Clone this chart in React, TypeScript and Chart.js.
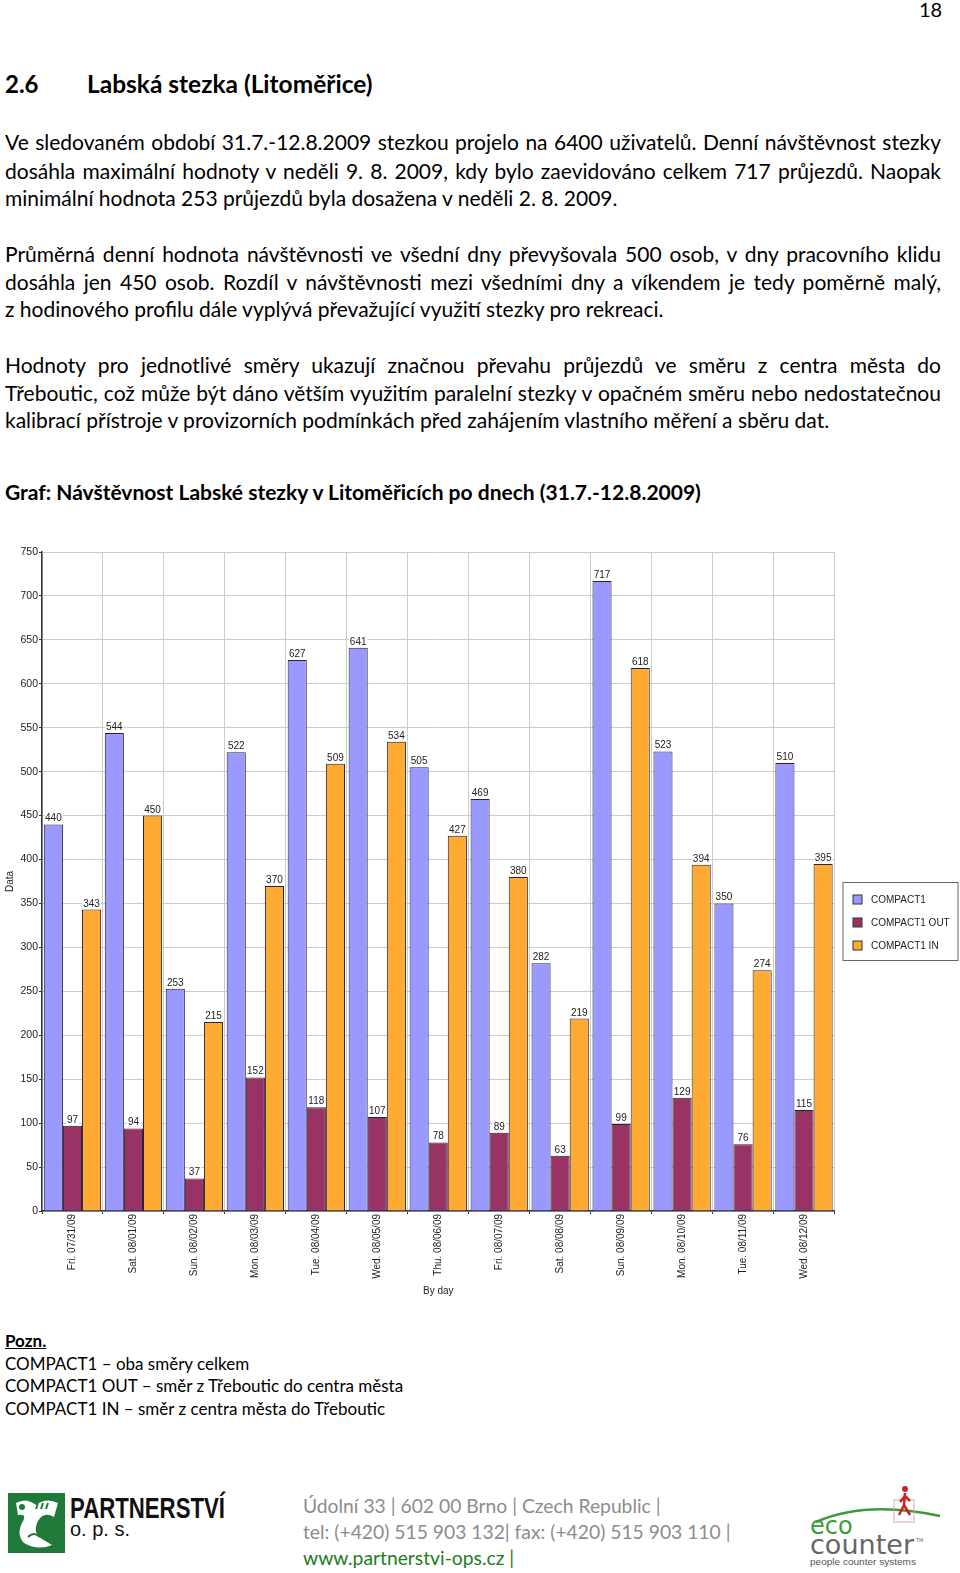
import React, { useEffect, useRef } from "react";
import { Chart, registerables } from "chart.js";

Chart.register(...registerables);

const categories = [
  "Fri. 07/31/09",
  "Sat. 08/01/09",
  "Sun. 08/02/09",
  "Mon. 08/03/09",
  "Tue. 08/04/09",
  "Wed. 08/05/09",
  "Thu. 08/06/09",
  "Fri. 08/07/09",
  "Sat. 08/08/09",
  "Sun. 08/09/09",
  "Mon. 08/10/09",
  "Tue. 08/11/09",
  "Wed. 08/12/09",
];
const compact1 = [440, 544, 253, 522, 627, 641, 505, 469, 282, 717, 523, 350, 510];
const compact1Out = [97, 94, 37, 152, 118, 107, 78, 89, 63, 99, 129, 76, 115];
const compact1In = [343, 450, 215, 370, 509, 534, 427, 380, 219, 618, 394, 274, 395];
const seriesNames = ["COMPACT1", "COMPACT1 OUT", "COMPACT1 IN"];
const seriesColors = ["#9999FF", "#993366", "#FFAA33"];
const yTickValues = [0, 50, 100, 150, 200, 250, 300, 350, 400, 450, 500, 550, 600, 650, 700, 750];
const xTitle = "By day";
const yTitle = "Data";

const valueLabels = {
  id: "valueLabels",
  afterDatasetsDraw(chart: any) {
    const ctx = chart.ctx;
    ctx.save();
    ctx.font = "10px Arial, 'Liberation Sans', sans-serif";
    ctx.textAlign = "center";
    ctx.textBaseline = "alphabetic";
    chart.data.datasets.forEach((ds: any, di: number) => {
      const meta = chart.getDatasetMeta(di);
      meta.data.forEach((el: any, i: number) => {
        const txt = String(ds.data[i]);
        const w = ctx.measureText(txt).width;
        const base = el.y - 3;
        ctx.fillStyle = "#ffffff";
        ctx.fillRect(el.x - w / 2 - 1, base - 9, w + 2, 11);
        ctx.fillStyle = "#222222";
        ctx.fillText(txt, el.x, base);
      });
    });
    ctx.restore();
  },
};

const boxLegend = {
  id: "boxLegend",
  afterDraw(chart: any) {
    const ctx = chart.ctx;
    const area = chart.chartArea;
    const x0 = area.right + 8.5;
    const y0 = area.top + 330.5;
    const w = 115;
    const h = 78;
    ctx.save();
    ctx.fillStyle = "#ffffff";
    ctx.fillRect(x0, y0, w, h);
    ctx.strokeStyle = "#666666";
    ctx.lineWidth = 1;
    ctx.strokeRect(x0, y0, w, h);
    ctx.font = "10px Arial, 'Liberation Sans', sans-serif";
    ctx.textBaseline = "middle";
    ctx.textAlign = "left";
    seriesNames.forEach((name, i) => {
      const cy = y0 + 17 + i * 23;
      ctx.fillStyle = seriesColors[i];
      ctx.fillRect(x0 + 10, cy - 4.5, 9, 9);
      ctx.strokeStyle = "#333333";
      ctx.strokeRect(x0 + 10, cy - 4.5, 9, 9);
      ctx.fillStyle = "#222222";
      ctx.fillText(name, x0 + 28, cy + 0.5);
    });
    ctx.restore();
  },
};

function BarChart() {
  const ref = useRef<HTMLCanvasElement | null>(null);
  useEffect(() => {
    if (!ref.current) return;
    const series = [compact1, compact1Out, compact1In];
    const chart = new Chart(ref.current, {
      type: "bar",
      data: {
        labels: categories,
        datasets: series.map((d, i) => ({
          label: seriesNames[i],
          data: d,
          backgroundColor: seriesColors[i],
          borderColor: "#2a2233",
          borderWidth: 1,
          borderSkipped: "bottom",
          categoryPercentage: 0.94,
          barPercentage: 1,
        })),
      },
      options: {
        animation: false,
        responsive: true,
        maintainAspectRatio: false,
        layout: { padding: { left: 0, right: 125.5, top: 12, bottom: 0 } },
        plugins: {
          legend: { display: false },
          tooltip: { enabled: false },
        },
        scales: {
          x: {
            afterFit: (s: any) => {
              s.height = 99;
            },
            grid: {
              color: "#cccccc",
              tickColor: "#333333",
              tickLength: 3,
              offset: true,
            },
            border: { color: "#333344", width: 1.5 },
            ticks: {
              minRotation: 90,
              maxRotation: 90,
              padding: 0,
              autoSkip: false,
              color: "#222222",
              font: { family: "Arial, 'Liberation Sans', sans-serif", size: 10 },
            },
            title: {
              display: true,
              text: xTitle,
              color: "#222222",
              font: { family: "Arial, 'Liberation Sans', sans-serif", size: 10 },
              padding: { top: 0, bottom: 13 },
            },
          },
          y: {
            min: 0,
            max: 750,
            afterFit: (s: any) => {
              s.width = 42;
            },
            afterBuildTicks: (s: any) => {
              s.ticks = yTickValues.map((v) => ({ value: v }));
            },
            grid: {
              color: "#cccccc",
              tickColor: "#333333",
              tickLength: 3,
            },
            border: { color: "#333344", width: 1.5 },
            ticks: {
              padding: 1,
              color: "#222222",
              font: { family: "Arial, 'Liberation Sans', sans-serif", size: 10.5 },
            },
            title: {
              display: true,
              text: yTitle,
              color: "#222222",
              font: { family: "Arial, 'Liberation Sans', sans-serif", size: 10 },
              padding: { top: 4, bottom: 0 },
            },
          },
        },
      },
      plugins: [valueLabels, boxLegend],
    });
    return () => chart.destroy();
  }, []);
  return (
    <div style={{ position: "absolute", left: 0, top: 540, width: 960, height: 770 }}>
      <canvas ref={ref} />
    </div>
  );
}

const bodyFont = "Lato, 'Open Sans', sans-serif";

function Line({
  y,
  text,
  justify,
  size = 21,
  bold,
  color = "#000",
  left = 5,
  width = 936,
}: {
  y: number;
  text: string;
  justify?: boolean;
  size?: number;
  bold?: boolean;
  color?: string;
  left?: number;
  width?: number;
}) {
  return (
    <div
      style={{
        position: "absolute",
        left,
        top: y - 15,
        width,
        height: 30,
        lineHeight: "30px",
        fontSize: size,
        fontWeight: bold ? 700 : 400,
        color,
        whiteSpace: "nowrap",
        textAlign: justify ? "justify" : "left",
        textAlignLast: justify ? "justify" : "left",
        fontFamily: bodyFont,
      }}
    >
      {text}
    </div>
  );
}

const para1 = [
  "Ve sledovaném období 31.7.-12.8.2009 stezkou projelo na 6400 uživatelů. Denní návštěvnost stezky",
  "dosáhla maximální hodnoty v neděli 9. 8. 2009, kdy bylo zaevidováno celkem 717 průjezdů. Naopak",
  "minimální hodnota 253 průjezdů byla dosažena v neděli 2. 8. 2009.",
];
const para2 = [
  "Průměrná denní hodnota návštěvnosti ve všední dny převyšovala 500 osob, v dny pracovního klidu",
  "dosáhla jen 450 osob. Rozdíl v návštěvnosti mezi všedními dny a víkendem je tedy poměrně malý,",
  "z hodinového profilu dále vyplývá převažující využití stezky pro rekreaci.",
];
const para3 = [
  "Hodnoty pro jednotlivé směry ukazují značnou převahu průjezdů ve směru z centra města do",
  "Třeboutic, což může být dáno větším využitím paralelní stezky v opačném směru nebo nedostatečnou",
  "kalibrací přístroje v provizorních podmínkách před zahájením vlastního měření a sběru dat.",
];
const notes = [
  "COMPACT1 – oba směry celkem",
  "COMPACT1 OUT – směr z Třeboutic do centra města",
  "COMPACT1 IN – směr z centra města do Třeboutic",
];

function Paragraph({ lines, ys }: { lines: string[]; ys: number[] }) {
  return (
    <>
      {lines.map((t, i) => (
        <Line key={i} y={ys[i]} text={t} justify={i < lines.length - 1} />
      ))}
    </>
  );
}

function PartnerstviLogo() {
  return (
    <div style={{ position: "absolute", left: 8, top: 1488, width: 230, height: 68 }}>
      <svg width="230" height="68" style={{ position: "absolute", left: 0, top: 0 }}>
        <rect x="0" y="5" width="57" height="60" fill="#1f7a3a" />
        <path d="M8 15 Q18 9 28 17 Q38 9 50 15 L46 29 Q36 23 30 33 Q24 45 34 51 L44 57 Q30 63 16 55 Q8 47 14 35 Q20 25 10 27 Z" fill="#ffffff" />
        <circle cx="14" cy="19" r="3" fill="#1f7a3a" />
        <circle cx="44" cy="53" r="3" fill="#1f7a3a" />
        <path d="M20 49 Q26 43 32 49" stroke="#1f7a3a" strokeWidth="2" fill="none" />
        <path d="M28 21 L30 15 M33 21 L35 15 M38 21 L40 15" stroke="#1f7a3a" strokeWidth="2" />
        <text
          x="62"
          y="30"
          textLength="155"
          lengthAdjust="spacingAndGlyphs"
          fontFamily="'Liberation Sans', Arial, sans-serif"
          fontWeight="700"
          fontSize="30"
          fill="#111"
        >
          PARTNERSTVÍ
        </text>
        <text x="62" y="48" fontFamily="'Liberation Sans', Arial, sans-serif" fontSize="20" fill="#111">
          o. p. s.
        </text>
      </svg>
    </div>
  );
}

function EcoCounterLogo() {
  return (
    <div style={{ position: "absolute", left: 806, top: 1484, width: 150, height: 86 }}>
      <svg width="150" height="86" style={{ position: "absolute", left: 0, top: 0 }}>
        <path d="M10 38 Q60 16 134 32" stroke="#3d9a3d" strokeWidth="2.5" fill="none" />
        <rect x="88" y="16" width="20" height="22" fill="none" stroke="#e8a0a0" strokeWidth="1" />
        <circle cx="99" cy="5" r="3" fill="#cc2222" />
        <path d="M99 9 L98 21 L93 31 M98 21 L104 31 M99 12 L94 18 M99 12 L104 17" stroke="#cc2222" strokeWidth="2.5" fill="none" />
        <text x="4" y="50" fontFamily="'DejaVu Sans', sans-serif" fontSize="24" fill="#3d9a3d">
          eco
        </text>
        <text x="4" y="70" textLength="104" lengthAdjust="spacingAndGlyphs" fontFamily="'DejaVu Sans', sans-serif" fontSize="27" fill="#666">
          counter
        </text>
        <text x="110" y="58" fontFamily="'DejaVu Sans', sans-serif" fontSize="5" fill="#666">
          TM
        </text>
        <text x="4" y="81" textLength="106" lengthAdjust="spacingAndGlyphs" fontFamily="'Liberation Sans', Arial, sans-serif" fontSize="9" fill="#555">
          people counter systems
        </text>
      </svg>
    </div>
  );
}

export default function App() {
  return (
    <div
      style={{
        position: "absolute",
        left: 0,
        top: 0,
        width: 960,
        height: 1573,
        background: "#fff",
        overflow: "hidden",
        fontFamily: bodyFont,
      }}
    >
      <Line y={9} text="18" left={919} width={30} size={20} />
      <Line y={84} text="2.6" size={24} bold />
      <Line y={84} text="Labská stezka (Litoměřice)" size={24.5} bold left={87} width={400} />
      <Paragraph lines={para1} ys={[142.4, 170.5, 197.6]} />
      <Paragraph lines={para2} ys={[253.8, 281.8, 308.9]} />
      <Paragraph lines={para3} ys={[365.1, 393.2, 420.3]} />
      <Line y={491.5} text="Graf: Návštěvnost Labské stezky v Litoměřicích po dnech (31.7.-12.8.2009)" bold size={21} />
      <BarChart />
      <div
        style={{
          position: "absolute",
          left: 5,
          top: 1341 - 12,
          lineHeight: "24px",
          fontSize: 17,
          fontWeight: 700,
          textDecoration: "underline",
          fontFamily: bodyFont,
        }}
      >
        Pozn.
      </div>
      {notes.map((t, i) => (
        <div
          key={i}
          style={{
            position: "absolute",
            left: 5,
            top: [1364, 1386, 1409][i] - 12,
            lineHeight: "24px",
            fontSize: 17,
            whiteSpace: "nowrap",
            fontFamily: bodyFont,
          }}
        >
          {t}
        </div>
      ))}
      <PartnerstviLogo />
      <div style={{ position: "absolute", left: 303, top: 1506 - 13, lineHeight: "26px", fontSize: 19.3, color: "#8c8c8c", whiteSpace: "nowrap" }}>
        Údolní 33 | 602 00 Brno | Czech Republic |
      </div>
      <div style={{ position: "absolute", left: 303, top: 1532 - 13, lineHeight: "26px", fontSize: 19.3, color: "#8c8c8c", whiteSpace: "nowrap" }}>
        tel: (+420) 515 903 132| fax: (+420) 515 903 110 |
      </div>
      <div style={{ position: "absolute", left: 303, top: 1558 - 13, lineHeight: "26px", fontSize: 19.3, color: "#1e7d1e", whiteSpace: "nowrap" }}>
        www.partnerstvi-ops.cz |
      </div>
      <EcoCounterLogo />
    </div>
  );
}
